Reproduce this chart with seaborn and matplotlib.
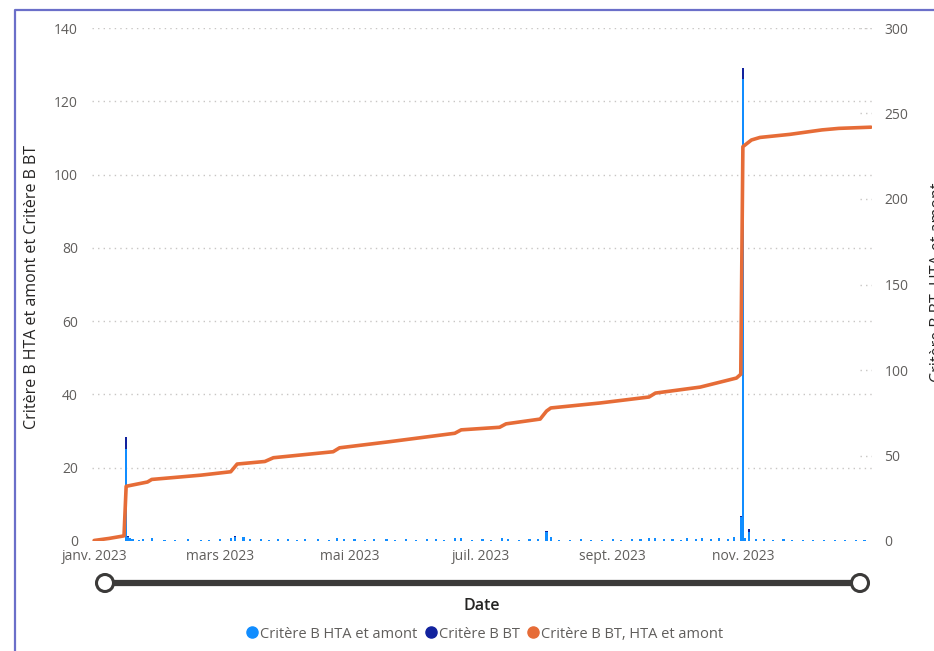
import numpy as np
import pandas as pd
import matplotlib
matplotlib.use('Agg')
import matplotlib.pyplot as plt
from matplotlib.lines import Line2D
from matplotlib.patches import Circle
import seaborn as sns

sns.set_theme(style='white')
plt.rcParams['font.family'] = ['Open Sans', 'DejaVu Sans']

# daily bars, "Critère B HTA et amont" (left axis)
hta_dates = ['2023-01-16', '2023-01-17', '2023-01-18', '2023-01-19', '2023-01-22', '2023-01-24',
             '2023-01-28', '2023-02-03', '2023-02-08', '2023-02-14', '2023-02-20', '2023-02-24',
             '2023-03-01', '2023-03-06', '2023-03-08', '2023-03-12', '2023-03-15', '2023-03-20',
             '2023-03-24', '2023-03-28', '2023-04-02', '2023-04-06', '2023-04-10', '2023-04-16',
             '2023-04-21', '2023-04-25', '2023-04-28', '2023-05-03', '2023-05-08', '2023-05-12',
             '2023-05-18', '2023-05-22', '2023-05-27', '2023-06-01', '2023-06-06', '2023-06-10',
             '2023-06-14', '2023-06-19', '2023-06-22', '2023-06-27', '2023-07-02', '2023-07-06',
             '2023-07-11', '2023-07-14', '2023-07-19', '2023-07-24', '2023-07-28', '2023-08-01',
             '2023-08-03', '2023-08-07', '2023-08-12', '2023-08-17', '2023-08-22', '2023-08-27',
             '2023-09-01', '2023-09-05', '2023-09-10', '2023-09-14', '2023-09-18', '2023-09-21',
             '2023-09-25', '2023-09-29', '2023-10-03', '2023-10-06', '2023-10-10', '2023-10-13',
             '2023-10-17', '2023-10-21', '2023-10-25', '2023-10-28', '2023-10-31', '2023-11-01',
             '2023-11-02', '2023-11-04', '2023-11-07', '2023-11-11', '2023-11-15', '2023-11-20',
             '2023-11-24', '2023-11-29', '2023-12-04', '2023-12-09', '2023-12-14', '2023-12-19',
             '2023-12-24', '2023-12-28']
hta_vals = [25.0, 1.0, 0.8, 0.6, 0.4, 0.6,
            0.9, 0.3, 0.4, 0.5, 0.4, 0.3,
            0.5, 0.9, 1.2, 1.0, 0.6, 0.5,
            0.4, 0.6, 0.5, 0.4, 0.6, 0.5,
            0.4, 0.7, 0.5, 0.5, 0.4, 0.6,
            0.5, 0.3, 0.5, 0.4, 0.6, 0.5,
            0.4, 0.7, 0.9, 0.4, 0.5, 0.4,
            0.7, 0.5, 0.4, 0.6, 0.5, 2.5,
            1.2, 0.4, 0.3, 0.5, 0.4, 0.3,
            0.5, 0.4, 0.5, 0.6, 0.7, 0.8,
            0.5, 0.6, 0.4, 0.7, 0.5, 0.9,
            0.6, 0.8, 0.6, 1.0, 6.5, 126.0,
            0.8, 2.5, 0.6, 0.5, 0.4, 0.5,
            0.3, 0.4, 0.3, 0.4, 0.3, 0.3,
            0.2, 0.3]

# "Critère B BT" stacked on top
bt_dates = ['2023-01-16', '2023-01-17', '2023-03-08', '2023-08-01', '2023-10-31', '2023-11-01', '2023-11-04']
bt_vals = [3.5, 0.3, 0.2, 0.3, 0.4, 3.0, 0.8]

# "Critère B BT, HTA et amont" (right axis)
tot_dates = ['2023-01-01', '2023-01-08', '2023-01-15', '2023-01-16', '2023-01-26', '2023-01-28',
             '2023-02-20', '2023-03-06', '2023-03-09', '2023-03-22', '2023-03-26', '2023-04-23',
             '2023-04-26', '2023-05-19', '2023-06-19', '2023-06-22', '2023-07-10', '2023-07-13',
             '2023-07-29', '2023-08-01', '2023-08-03', '2023-08-26', '2023-09-18', '2023-09-21',
             '2023-10-12', '2023-10-29', '2023-10-31', '2023-11-01', '2023-11-05', '2023-11-09',
             '2023-11-23', '2023-12-08', '2023-12-16', '2023-12-31']
tot_vals = [0.3, 1.5, 3.0, 32.0, 34.5, 36.0,
            38.5, 40.5, 45.0, 46.5, 48.7, 52.2,
            54.5, 58.0, 63.0, 65.0, 66.5, 68.5,
            71.3, 76.0, 77.8, 80.7, 84.2, 86.5,
            90.0, 95.3, 97.5, 230.6, 234.5, 236.0,
            237.8, 240.4, 241.3, 242.0]

month_ticks = ['2023-01-01', '2023-03-01', '2023-05-01', '2023-07-01', '2023-09-01', '2023-11-01']
month_labels = ['janv. 2023', 'mars 2023', 'mai 2023', 'juil. 2023', 'sept. 2023', 'nov. 2023']
left_ticks = [0, 20, 40, 60, 80, 100, 120, 140]
right_ticks = [0, 50, 100, 150, 200, 250, 300]

c_hta = '#118DFF'
c_bt = '#12239E'
c_tot = '#E66C37'
c_tick = '#605E5C'
c_title = '#252423'

hta = pd.Series(hta_vals, index=pd.to_datetime(hta_dates))
bt = pd.Series(bt_vals, index=pd.to_datetime(bt_dates))
days = hta.index.union(bt.index)
hta = hta.reindex(days, fill_value=0)
bt = bt.reindex(days, fill_value=0)
df_tot = pd.DataFrame({'date': pd.to_datetime(tot_dates), 'total': tot_vals})

fig = plt.figure(figsize=(9.34, 6.51), dpi=100)
ax = fig.add_axes([92 / 934, 1 - 541 / 651, 780 / 934, 513 / 651])

ax.bar(days, hta.values, width=1.0, color=c_hta, linewidth=0)
ax.bar(days, bt.values, bottom=hta.values, width=1.0, color=c_bt, linewidth=0)

ax.set_ylim(0, 140)
ax.set_yticks(left_ticks)
ax.set_xlim(pd.Timestamp('2022-12-31'), pd.Timestamp('2023-12-31 12:00'))
ax.set_xticks(pd.to_datetime(month_ticks))
ax.set_xticklabels(month_labels)
for y in left_ticks[1:]:
    ax.axhline(y, color='#C8C6C4', lw=1, ls=(0, (1, 3)), zorder=0)
ax.tick_params(axis='y', length=0, pad=10, labelsize=10, labelcolor=c_tick)
ax.tick_params(axis='x', length=0, pad=6, labelsize=10, labelcolor=c_tick)
for s in ax.spines.values():
    s.set_visible(False)
ax.set_xlabel('')
ax.set_ylabel('')

ax2 = ax.twinx()
sns.lineplot(data=df_tot, x='date', y='total', ax=ax2, color=c_tot, lw=2.6, legend=False)
ax2.set_ylim(0, 300)
ax2.set_yticks(right_ticks)
for y in right_ticks[1:]:
    ax2.axhline(y, xmin=0.985, xmax=1.0, color='#C8C6C4', lw=1, ls=(0, (1, 3)), zorder=0)
ax2.tick_params(axis='y', length=0, pad=9, labelsize=10, labelcolor=c_tick)
ax2.set_xlim(ax.get_xlim())
ax2.set_xlabel('')
ax2.set_ylabel('')
for s in ax2.spines.values():
    s.set_visible(False)

# axis titles
fig.text(32 / 934, 1 - 287 / 651, 'Critère B HTA et amont et Critère B BT', rotation=90,
         ha='center', va='center', fontsize=11.5, color=c_title)
fig.text(938 / 934, 1 - 282 / 651, 'Critère B BT, HTA et amont', rotation=90,
         ha='center', va='center', fontsize=11.5, color=c_title)
fig.text(482 / 934, 1 - 606 / 651, 'Date', ha='center', va='center', fontsize=11.5,
         color=c_title, fontweight='semibold')

# legend
handles = [Line2D([], [], marker='o', ls='', color=c, markersize=8) for c in (c_hta, c_bt, c_tot)]
fig.legend(handles, ['Critère B HTA et amont', 'Critère B BT', 'Critère B BT, HTA et amont'],
           loc='center', bbox_to_anchor=(484 / 934, 1 - 634 / 651), ncol=3, frameon=False,
           fontsize=10.5, handletextpad=0.05, columnspacing=0.4, handlelength=1.0,
           labelcolor=c_tick)

# range slider and focus frame
ov = fig.add_axes([0, 0, 1, 1], zorder=-1)
ov.set_xlim(0, 934)
ov.set_ylim(651, 0)
ov.axis('off')
ov.plot([105, 860], [583, 583], color='#3B3A39', lw=4.5, solid_capstyle='butt')
for cx in (105, 860):
    ov.add_patch(Circle((cx, 583), 8.5, facecolor='white', edgecolor='#3B3A39', lw=2.2, zorder=3))
ov.plot([15, 15, 934], [651, 10, 10], color='#6B6FC9', lw=1.6)

fig.savefig('out.png', dpi=100)
